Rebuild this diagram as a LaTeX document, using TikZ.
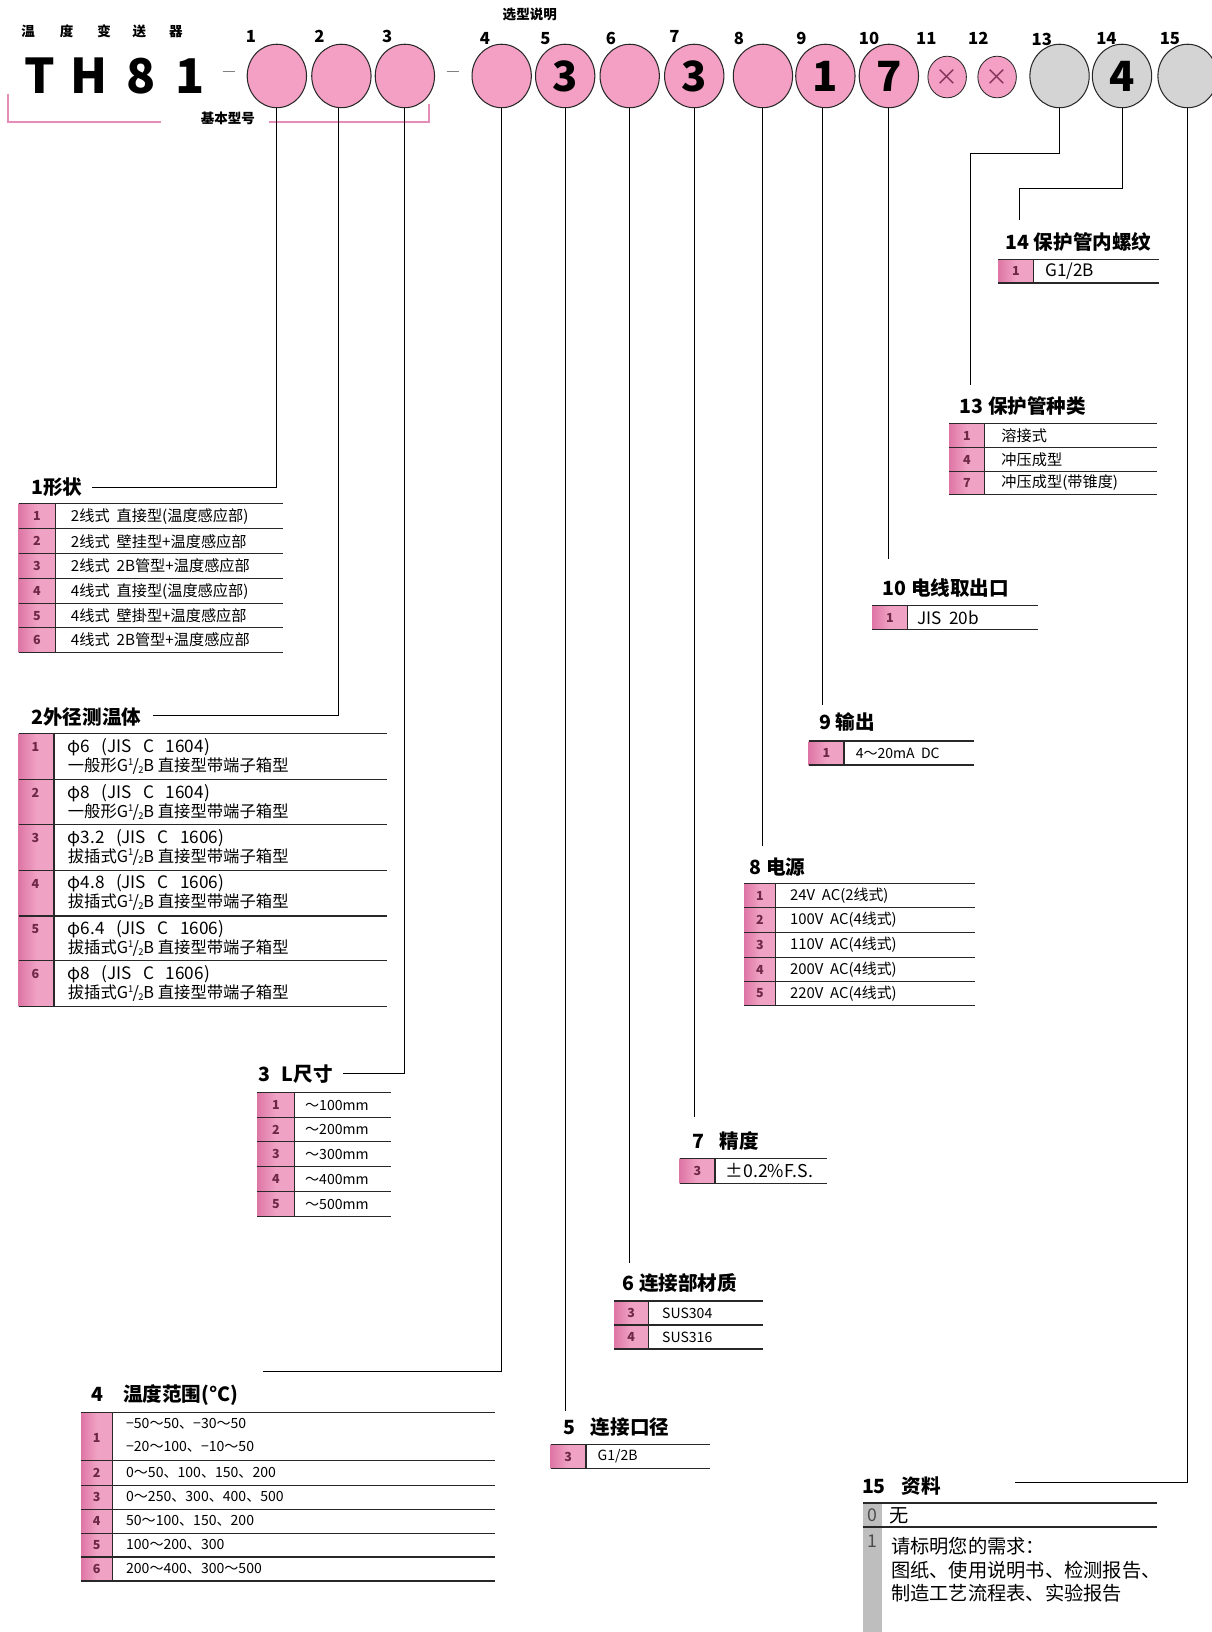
\documentclass[tikz,border=0pt]{standalone}
\usepackage{fontspec}
\setmainfont{Noto Sans CJK SC}
\usetikzlibrary{shapes.geometric}
\definecolor{cpink}{RGB}{243,160,196}
\definecolor{tpink}{RGB}{240,162,196}
\definecolor{tpinkd}{RGB}{222,118,165}
\definecolor{cgray}{RGB}{212,212,212}
\definecolor{tgray}{RGB}{190,190,190}
\definecolor{tabnum}{RGB}{110,40,70}
\definecolor{linec}{RGB}{40,40,40}
\definecolor{brpink}{RGB}{230,140,185}
\definecolor{xcol}{RGB}{130,50,90}
\newcommand\ghalf{G\raisebox{0.38em}{\fontsize{9}{9}\selectfont 1}\kern-0.6pt/\kern-0.8pt\raisebox{-0.12em}{\fontsize{9}{9}\selectfont 2}B}
\newcommand\opttab[6]{%
  \shade[left color=tpinkd, right color=tpink, middle color=tpink] (#1,#4) rectangle (#2,#5);
  \draw[tabsep] (#2,#4) -- (#2,#5);
  \foreach \yy in {#6} \draw[rowline] (#1,\yy) -- (#3,\yy);
}
\tikzset{
 x=1pt, y=-1pt,
 bigc/.style={ellipse, draw=linec, line width=1pt, minimum width=57pt, minimum height=61pt, inner sep=0pt, font=\fontsize{40}{40}\selectfont\bfseries},
 pinkc/.style={bigc, fill=cpink},
 grayc/.style={bigc, fill=cgray},
 smallc/.style={ellipse, draw=linec, fill=cpink, line width=0.8pt, minimum width=37pt, minimum height=40pt, inner sep=0pt, font=\fontsize{22}{22}\selectfont, text=xcol},
 poslbl/.style={font=\fontsize{16}{16}\selectfont\bfseries, inner sep=0pt},
 conn/.style={draw=black, line width=0.9pt},
 hdr/.style={anchor=west, inner sep=0pt, font=\fontsize{18.8}{18.8}\selectfont\bfseries},
 rowline/.style={draw=linec, line width=1.2pt},
 tabsep/.style={draw=linec, line width=1.2pt},
 tnum/.style={font=\fontsize{12}{12}\selectfont\bfseries, text=tabnum, inner sep=0pt},
 ttxt/.style={anchor=west, inner sep=0pt, font=\fontsize{13.5}{13.5}\selectfont},
 bracket/.style={draw=brpink, line width=1.8pt},
}
\begin{document}
\begin{tikzpicture}
\useasboundingbox (0,0) rectangle (1164,1568);
\fill[white] (0,0) rectangle (1164,1568);

% ---- title
\foreach \ch/\xx [count=\k] in {温/27,度/64,变/100,送/134,器/169}
  \node[font=\fontsize{13}{13}\selectfont\bfseries, inner sep=0pt] (tt\k) at (\xx,30) {\ch};
\foreach \ch/\xx [count=\k] in {T/38,H/86,8/136,1/183}
  \node[font=\fontsize{46}{46}\selectfont\bfseries, inner sep=0pt] (tm\k) at (\xx,73) {\ch};
\node[font=\fontsize{13}{13}\selectfont\bfseries, inner sep=0pt] (xuanxing) at (509,14) {选型说明};
\node[font=\fontsize{13}{13}\selectfont\bfseries, inner sep=0pt] (jiben) at (219,114) {基本型号};
\draw[gray, line width=1pt] (214,69) -- (226,69);
\draw[gray, line width=1pt] (429,69) -- (441,69);
\draw[bracket] (8,90) -- (8,117) -- (155,117);
\draw[bracket] (258,117) -- (412,117) -- (412,100);

% ---- circles
\node[pinkc] (c1) at (266,73) {};
\node[pinkc] (c2) at (328,73) {};
\node[pinkc] (c3) at (389,73) {};
\node[pinkc] (c4) at (482,73) {};
\node[pinkc] (c5) at (543,73) {3};
\node[pinkc] (c6) at (605,73) {};
\node[pinkc] (c7) at (667,73) {3};
\node[pinkc] (c8) at (733,73) {};
\node[pinkc] (c9) at (793,73) {1};
\node[pinkc] (c10) at (854,73) {7};
\node[smallc] (c11) at (910,74) {×};
\node[smallc] (c12) at (958,74) {×};
\node[grayc] (c13) at (1018,73) {};
\node[grayc] (c14) at (1078,73) {4};
\node[grayc] (c15) at (1141,73) {};

\foreach \n/\xx/\yy in {1/241/35,2/307/35,3/372/35,4/466/37,5/524/37,6/587/37,7/648/35,8/710/37,9/770/37,10/835/37,11/890/37,12/940/37,13/1001/38,14/1063/37,15/1124/37}
  \node[poslbl] (p\n) at (\xx,\yy) {\n};

% ---- headers
\node[hdr] (h1) at (30,468) {1形状};
\node[hdr] (h2) at (30,689) {2外径测温体};
\node[hdr] (h3) at (248,1032) {3\hspace{0.6em}L尺寸};
\node[hdr] (h4) at (88,1340) {4\hspace{1em}温度范围(°C)};
\node[hdr] (h5) at (541,1371) {5\hspace{0.8em}连接口径};
\node[hdr] (h6) at (598,1233) {6 连接部材质};
\node[hdr] (h7) at (665,1096) {7\hspace{0.8em}精度};
\node[hdr] (h8) at (720,833) {8 电源};
\node[hdr] (h9) at (787,694) {9 输出};
\node[hdr] (h10) at (848,565) {10 电线取出口};
\node[hdr] (h13) at (922,390) {13 保护管种类};
\node[hdr] (h14) at (966,232) {14 保护管内螺纹};
\node[hdr] (h15) at (828,1428) {15\hspace{0.8em}资料};

% ---- connectors
\coordinate (e1) at (88,468);
\coordinate (e2) at (147,687);
\coordinate (e3) at (330,1031);
\coordinate (e4) at (253,1318);
\coordinate (e5) at (544,1356);
\coordinate (e6) at (605,1213);
\coordinate (e7) at (666,1073);
\coordinate (e8) at (733,813);
\coordinate (e9) at (790,677);
\coordinate (e10) at (853,537);
\coordinate (k13) at (932,147);
\coordinate (e13) at (932,370);
\coordinate (k14) at (979,181);
\coordinate (e14) at (979,211);
\coordinate (e15) at (975,1424);
\draw[conn] (c1.south) |- (e1);
\draw[conn] ([xshift=-3pt]c2.south) |- (e2);
\draw[conn] (c3.south) |- (e3);
\draw[conn] (c4.south) |- (e4);
\draw[conn] (c5.south) -- (c5.south |- e5);
\draw[conn] (c6.south) -- (c6.south |- e6);
\draw[conn] (c7.south) -- (c7.south |- e7);
\draw[conn] (c8.south) -- (c8.south |- e8);
\draw[conn] ([xshift=-3pt]c9.south) -- (e9);
\draw[conn] (c10.south) -- (c10.south |- e10);
\draw[conn] (c13.south) |- (k13) -- (e13);
\draw[conn] (c14.south) |- (k14) -- (e14);
\draw[conn] (c15.south) |- (e15);

% ---- table 1
\opttab{18}{53}{272}{484}{627}{484,508,532,556,580,603,627}
\foreach \t/\yy [count=\k] in {2线式\ \ 直接型(温度感应部)/496,2线式\ \ 壁挂型+温度感应部/520,2线式\ \ 2B管型+温度感应部/544,4线式\ \ 直接型(温度感应部)/568,4线式\ \ 壁掛型+温度感应部/591.5,4线式\ \ 2B管型+温度感应部/615}{
  \node[tnum] (n1-\k) at (35.5,\yy) {\k};
  \node[ttxt, font=\fontsize{14.6}{14.6}\selectfont] (a1-\k) at (68,\yy) {\t};
}

% ---- table 2
\opttab{18}{52}{372}{705}{967}{705,749,792,836,880,923,967}
\foreach \ta/\tb/\yy [count=\k] in {φ6\ \ \ (JIS\ \ \ C\ \ \ 1604)/一般形\ghalf\ 直接型带端子箱型/705,
  φ8\ \ \ (JIS\ \ \ C\ \ \ 1604)/一般形\ghalf\ 直接型带端子箱型/749,
  φ3.2\ \ \ (JIS\ \ \ C\ \ \ 1606)/拔插式\ghalf\ 直接型带端子箱型/792,
  φ4.8\ \ \ (JIS\ \ \ C\ \ \ 1606)/拔插式\ghalf\ 直接型带端子箱型/836,
  φ6.4\ \ \ (JIS\ \ \ C\ \ \ 1606)/拔插式\ghalf\ 直接型带端子箱型/880,
  φ8\ \ \ (JIS\ \ \ C\ \ \ 1606)/拔插式\ghalf\ 直接型带端子箱型/923}{
  \node[tnum] (n2-\k) at (34,\yy+13) {\k};
  \node[ttxt, font=\fontsize{16.5}{16.5}\selectfont] (a2-\k) at (65,\yy+13) {\ta};
  \node[ttxt, font=\fontsize{15.7}{15.7}\selectfont] (b2-\k) at (65,\yy+31) {\tb};
}

% ---- table 3
\opttab{247}{283}{376}{1050}{1169}{1050,1074,1097,1121,1145,1169}
\foreach \t/\yy [count=\k] in {～100mm/1062,～200mm/1085.5,～300mm/1109,～400mm/1133,～500mm/1157}{
  \node[tnum] (n3-\k) at (265,\yy) {\k};
  \node[ttxt] (a3-\k) at (293,\yy) {\t};
}

% ---- table 4
\opttab{78}{108}{476}{1357}{1519}{1357,1403,1427,1450,1473,1496,1519}
\node[tnum] (n4-1) at (93,1382) {1};
\node[ttxt] (a4-1a) at (121,1368) {−50～50、−30～50};
\node[ttxt] (a4-1b) at (121,1390) {−20～100、−10～50};
\foreach \t/\yy [count=\k from 2] in {0～50、100、150、200/1415,0～250、300、400、500/1438.5,50～100、150、200/1461.5,100～200、300/1484.5,200～400、300～500/1507.5}{
  \node[tnum] (n4-\k) at (93,\yy) {\k};
  \node[ttxt] (a4-\k) at (121,\yy) {\t};
}

% ---- table 5
\opttab{529}{563}{682}{1388}{1411}{1388,1411}
\node[tnum] (n5-1) at (546,1399.5) {3};
\node[ttxt] (a5-1) at (574,1399.5) {G1/2B};

% ---- table 6
\opttab{590}{623}{733}{1250}{1296}{1250,1273,1296}
\node[tnum] (n6-1) at (606.5,1261.5) {3};
\node[ttxt] (a6-1) at (636,1261.5) {SUS304};
\node[tnum] (n6-2) at (606.5,1284.5) {4};
\node[ttxt] (a6-2) at (636,1284.5) {SUS316};

% ---- table 7
\opttab{653}{687}{795}{1113}{1137}{1113,1137}
\node[tnum] (n7-1) at (670,1125) {3};
\node[ttxt, font=\fontsize{17}{17}\selectfont] (a7-1) at (697,1125) {±0.2\%F.S.};

% ---- table 8
\opttab{715}{745}{937}{849}{966}{849,872,896,920,943,966}
\foreach \t/\yy [count=\k] in {24V\ \ AC(2线式)/860.5,100V\ \ AC(4线式)/884,110V\ \ AC(4线式)/908,200V\ \ AC(4线式)/931.5,220V\ \ AC(4线式)/954.5}{
  \node[tnum] (n8-\k) at (730,\yy) {\k};
  \node[ttxt, font=\fontsize{14.3}{14.3}\selectfont] (a8-\k) at (759,\yy) {\t};
}

% ---- table 9
\opttab{777}{811}{936}{712}{735}{712,735}
\node[tnum] (n9-1) at (794,723.5) {1};
\node[ttxt] (a9-1) at (822,723.5) {4～20mA\ \ DC};

% ---- table 10
\opttab{838}{872}{997}{582}{605}{582,605}
\node[tnum] (n10-1) at (855,593.5) {1};
\node[ttxt, font=\fontsize{16.5}{16.5}\selectfont] (a10-1) at (881,593.5) {JIS\ \ 20b};

% ---- table 13
\opttab{912}{946}{1112}{407}{475}{407,430,453,475}
\foreach \t/\n/\yy [count=\k] in {溶接式/1/418.5,冲压成型/4/441.5,冲压成型(带锥度)/7/464}{
  \node[tnum] (n13-\k) at (929,\yy) {\n};
  \node[ttxt, font=\fontsize{14.6}{14.6}\selectfont] (a13-\k) at (962,\yy) {\t};
}

% ---- table 14
\opttab{959}{993}{1114}{249}{272}{249,272}
\node[tnum] (n14-1) at (976,260.5) {1};
\node[ttxt, font=\fontsize{16.5}{16.5}\selectfont] (a14-1) at (1004,260.5) {G1/2B};

% ---- table 15
\fill[tgray] (829,1444) rectangle (847,1568);
\draw[rowline] (829,1444) -- (1112,1444);
\draw[rowline] (829,1467) -- (1112,1467);
\node[font=\fontsize{17}{17}\selectfont, text=black!70, inner sep=0pt] (n15-0) at (838,1456) {0};
\node[ttxt, font=\fontsize{18.5}{18.5}\selectfont] (a15-0) at (854,1456) {无};
\node[font=\fontsize{17}{17}\selectfont, text=black!70, inner sep=0pt] (n15-1) at (838,1481) {1};
\node[ttxt, font=\fontsize{18.5}{18.5}\selectfont] (a15-1) at (856,1486) {请标明您的需求：};
\node[ttxt, font=\fontsize{18.5}{18.5}\selectfont] (a15-2) at (856,1509) {图纸、使用说明书、检测报告、};
\node[ttxt, font=\fontsize{18.5}{18.5}\selectfont] (a15-3) at (856,1531) {制造工艺流程表、实验报告};
\end{tikzpicture}
\end{document}
